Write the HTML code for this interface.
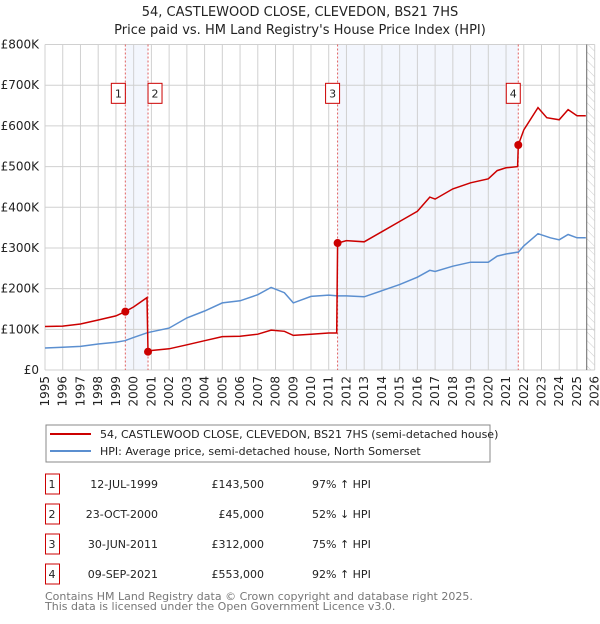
<!DOCTYPE html>
<html><head><meta charset="utf-8"><style>
body{margin:0;background:#fff;font-family:"DejaVu Sans","Liberation Sans",sans-serif;}
svg text{font-family:"DejaVu Sans","Liberation Sans",sans-serif;}
</style></head><body>
<svg id="c" width="600" height="620" xmlns="http://www.w3.org/2000/svg">
<text x="300" y="16" text-anchor="middle" font-size="13" fill="#222">54, CASTLEWOOD CLOSE, CLEVEDON, BS21 7HS</text>
<text x="300" y="34" text-anchor="middle" font-size="13" fill="#222">Price paid vs. HM Land Registry's House Price Index (HPI)</text>
<g id="plot"></g>
<rect x="46" y="425" width="444" height="37" fill="#fff" stroke="#888"/>
<line x1="50" y1="434" x2="91" y2="434" stroke="#cc0000" stroke-width="2"/>
<text x="100" y="438" font-size="11" fill="#222">54, CASTLEWOOD CLOSE, CLEVEDON, BS21 7HS (semi-detached house)</text>
<line x1="50" y1="451" x2="91" y2="451" stroke="#5b8fd0" stroke-width="2"/>
<text x="100" y="455" font-size="11" fill="#222">HPI: Average price, semi-detached house, North Somerset</text>
<g id="table" font-size="11" fill="#222"></g>
<text x="45" y="600" font-size="11" fill="#777">Contains HM Land Registry data © Crown copyright and database right 2025.</text>
<text x="45" y="610" font-size="11" fill="#777">This data is licensed under the Open Government Licence v3.0.</text>
</svg>
<script>
const yTicks=[0,100,200,300,400,500,600,700,800];
const yTickLabels=["£0","£100K","£200K","£300K","£400K","£500K","£600K","£700K","£800K"];
const xYears=[1995,1996,1997,1998,1999,2000,2001,2002,2003,2004,2005,2006,2007,2008,2009,2010,2011,2012,2013,2014,2015,2016,2017,2018,2019,2020,2021,2022,2023,2024,2025,2026];
const hpiT=[1995,1996,1997,1998,1999,1999.5,2000,2000.8,2001,2002,2003,2004,2005,2006,2007,2007.75,2008.5,2009,2010,2011,2011.5,2012,2013,2014,2015,2016,2016.7,2017,2018,2019,2020,2020.5,2021,2021.7,2022,2022.8,2023.5,2024,2024.5,2025,2025.5];
const hpiV=[54,56,58,64,68,72,80,92,94,103,128,145,165,170,185,203,190,165,181,184,182,182,180,195,210,228,245,242,255,265,265,280,285,290,305,335,325,320,333,325,325];
const priceT=[1995,1996,1997,1998,1999,1999.53,2000,2000.75,2000.81,2001,2002,2003,2004,2005,2006,2007,2007.75,2008.5,2009,2010,2011,2011.45,2011.5,2012,2013,2014,2015,2016,2016.7,2017,2018,2019,2020,2020.5,2021,2021.65,2021.69,2022,2022.8,2023.3,2024,2024.5,2025,2025.5];
const priceV=[107,108,113,123,133,143.5,155,178,45,48,52,62,72,82,83,88,98,95,85,88,91,91,312,318,315,340,365,390,425,420,445,460,470,490,497,500,553,590,645,620,615,640,625,625];
const saleLabels=["1","2","3","4"];
const saleT=[1999.53,2000.81,2011.5,2021.69];
const saleV=[143.5,45,312,553];
const saleDates=["12-JUL-1999","23-OCT-2000","30-JUN-2011","09-SEP-2021"];
const salePrices=["£143,500","£45,000","£312,000","£553,000"];
const saleHpi=["97% ↑ HPI","52% ↓ HPI","75% ↑ HPI","92% ↑ HPI"];
const X0=45,X1=594.7,Y0=370,Y1=44.5,dataEnd=2025.55;
const xs=t=>X0+(t-1995)*(X1-X0)/31;
const ys=v=>Y0-(v/800)*(Y0-Y1);
const NS="http://www.w3.org/2000/svg";
const g=document.getElementById('plot');
function mk(tag,attrs,parent){const e=document.createElementNS(NS,tag);for(const k in attrs)e.setAttribute(k,attrs[k]);(parent||g).appendChild(e);return e;}
let e;
e=mk('rect',{x:xs(saleT[0]),y:Y1,width:xs(saleT[1])-xs(saleT[0]),height:Y0-Y1,fill:'#f3f6fd'});


e=mk('rect',{x:xs(saleT[2]),y:Y1,width:xs(saleT[3])-xs(saleT[2]),height:Y0-Y1,fill:'#f3f6fd'});


const defs=mk('defs',{});
const pat=mk('pattern',{id:'h',width:6,height:6,patternUnits:'userSpaceOnUse',patternTransform:'rotate(-45)'},defs);
mk('line',{x1:0,y1:0,x2:0,y2:6,stroke:'#ccc','stroke-width':1},pat);
e=mk('rect',{x:xs(dataEnd),y:Y1,width:X1-xs(dataEnd),height:Y0-Y1,fill:'url(#h)'});


xYears.forEach(y=>{
 e=mk('line',{x1:xs(y),y1:Y1,x2:xs(y),y2:Y0,stroke:'#d0d0d0','stroke-width':1});
 
 
 e=mk('text',{x:0,y:0,'font-size':12,fill:'#222','text-anchor':'end',transform:`translate(${xs(y)+4},${Y0+6}) rotate(-90)`});
 e.textContent=y;
 
 
});
yTicks.forEach((v,i)=>{
 e=mk('line',{x1:X0,y1:ys(v),x2:X1,y2:ys(v),stroke:'#d0d0d0','stroke-width':1});
 
 
 e=mk('text',{x:X0-6,y:ys(v)+4,'font-size':12,fill:'#222','text-anchor':'end'});
 e.textContent=yTickLabels[i];
 
 
});
e=mk('line',{x1:xs(dataEnd),y1:Y1,x2:xs(dataEnd),y2:Y0,stroke:'#666','stroke-width':1});


saleT.forEach((t,i)=>{
 e=mk('line',{x1:xs(t),y1:Y1,x2:xs(t),y2:Y0,stroke:'#e06060','stroke-width':1,'stroke-dasharray':'2,2'});
 
 
 const bx=xs(t)+(i==0?-7:(i==1?7:-5)),by=ys(680);
 e=mk('rect',{x:bx-7,y:by-10,width:14,height:20,fill:'#fff',stroke:'#cc0000'});
 
 
 e=mk('text',{x:bx,y:by+4,'font-size':11,fill:'#222','text-anchor':'middle'});
 e.textContent=saleLabels[i];
 
 
});
function pts(T,V){return T.map((t,i)=>xs(t).toFixed(1)+','+ys(V[i]).toFixed(1)).join(' ');}
e=mk('polyline',{points:pts(hpiT,hpiV),fill:'none',stroke:'#5b8fd0','stroke-width':1.5});


e=mk('polyline',{points:pts(priceT,priceV),fill:'none',stroke:'#cc0000','stroke-width':1.5});


saleT.forEach((t,i)=>{
 e=mk('circle',{cx:xs(t),cy:ys(saleV[i]),r:4,fill:'#cc0000'});
 
 
});
const tb=document.getElementById('table');
saleLabels.forEach((l,i)=>{
 const y=485+i*30;
 e=mk('rect',{x:45.5,y:y-11,width:14,height:20,fill:'#fff',stroke:'#cc0000'},tb);
 
 
 e=mk('text',{x:52,y:y+3,'text-anchor':'middle'},tb);e.textContent=l;
 
 
 e=mk('text',{x:158,y:y+3,'text-anchor':'end'},tb);e.textContent=saleDates[i];
 
 
 e=mk('text',{x:264,y:y+3,'text-anchor':'end'},tb);e.textContent=salePrices[i];
 
 
 e=mk('text',{x:312,y:y+3},tb);e.textContent=saleHpi[i];
 
 
});
</script>
</body></html>
